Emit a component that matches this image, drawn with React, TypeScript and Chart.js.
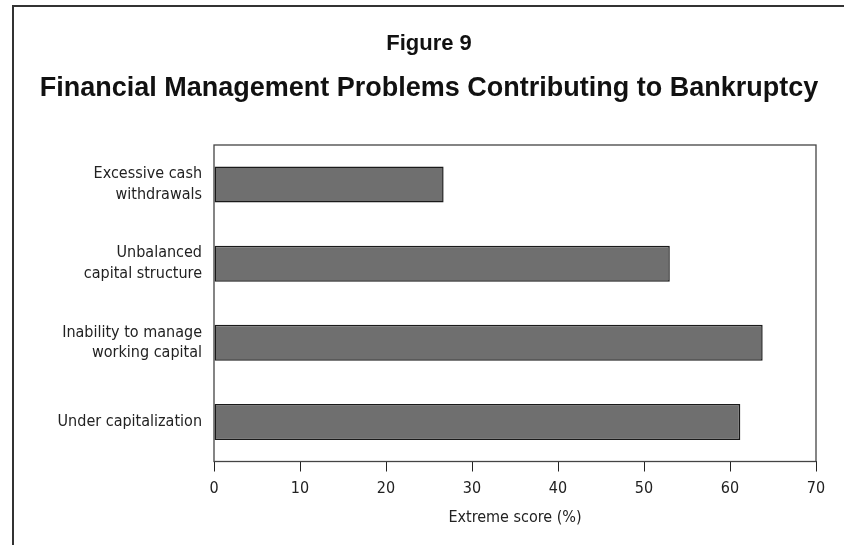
import React, { useEffect, useRef } from "react";
import { Chart, registerables } from "chart.js";

Chart.register(...registerables);

const categories: (string | string[])[] = [
  ["Excessive cash", "withdrawals"],
  ["Unbalanced", "capital structure"],
  ["Inability to manage", "working capital"],
  "Under capitalization",
];
const scores: number[] = [26.7, 53.0, 63.8, 61.2];
const xTicks: number[] = [0, 10, 20, 30, 40, 50, 60, 70];
const figureLabel = "Figure 9";
const chartTitle = "Financial Management Problems Contributing to Bankruptcy";
const xAxisTitle = "Extreme score (%)";

const narrowFont = "'Liberation Sans Narrow', 'DejaVu Sans Condensed', 'Liberation Sans', Arial, sans-serif";

const frameBox = {
  id: "frameBox",
  afterDraw(chart: any) {
    const { ctx, chartArea } = chart;
    ctx.save();
    ctx.strokeStyle = "#444";
    ctx.lineWidth = 1.3;
    ctx.strokeRect(chartArea.left, chartArea.top, chartArea.right - chartArea.left, chartArea.bottom - chartArea.top);
    ctx.restore();
  },
};

export default function App() {
  const ref = useRef<HTMLCanvasElement | null>(null);
  useEffect(() => {
    if (!ref.current) return;
    const chart = new Chart(ref.current, {
      type: "bar",
      data: {
        labels: categories,
        datasets: [
          {
            data: scores,
            backgroundColor: "#6f6f6f",
            borderColor: "#1a1a1a",
            borderWidth: 1.5,
            borderSkipped: false,
            categoryPercentage: 1,
            barPercentage: 0.456,
          },
        ],
      },
      options: {
        indexAxis: "y",
        animation: false,
        responsive: false,
        maintainAspectRatio: false,
        layout: { padding: { top: 145, right: 28, left: 14, bottom: 18 } },
        plugins: { legend: { display: false }, tooltip: { enabled: false }, title: { display: false } },
        scales: {
          x: {
            min: 0,
            max: 70,
            afterBuildTicks: (scale: any) => {
              scale.ticks = xTicks.map((v) => ({ value: v }));
            },
            afterFit: (scale: any) => {
              scale.height = 65.5;
            },
            grid: {
              display: true,
              drawOnChartArea: false,
              drawTicks: true,
              tickLength: 10,
              color: "#222",
              lineWidth: 1,
            },
            border: { display: true, color: "#222", width: 1 },
            ticks: {
              color: "#222",
              padding: 8,
              font: { family: narrowFont, size: 16 },
              maxRotation: 0,
            },
            title: {
              display: true,
              text: xAxisTitle,
              color: "#222",
              font: { family: narrowFont, size: 16 },
              padding: { top: 4, bottom: 0 },
            },
          },
          y: {
            afterFit: (scale: any) => {
              scale.width = 200;
            },
            grid: { display: false },
            border: { display: false },
            ticks: {
              color: "#222",
              padding: 4,
              font: { family: narrowFont, size: 16, lineHeight: 1.3 },
            },
          },
        },
      },
      plugins: [frameBox],
    });
    return () => chart.destroy();
  }, []);

  return (
    <div style={{ position: "fixed", left: 0, top: 0, width: 844, height: 545, background: "#fff", overflow: "hidden" }}>
      <div
        style={{
          position: "absolute",
          left: 12,
          top: 5,
          width: 900,
          height: 600,
          borderLeft: "2px solid #333",
          borderTop: "2px solid #333",
        }}
      />
      <canvas ref={ref} width={844} height={545} style={{ position: "absolute", left: 0, top: 0 }} />
      <div
        style={{
          position: "absolute",
          left: 14,
          width: 830,
          top: 29,
          textAlign: "center",
          fontFamily: "'Liberation Sans', Arial, sans-serif",
          fontWeight: "bold",
          fontSize: 22,
          lineHeight: "28px",
          color: "#111",
        }}
      >
        {figureLabel}
      </div>
      <div
        style={{
          position: "absolute",
          left: 14,
          width: 830,
          top: 71,
          textAlign: "center",
          fontFamily: "'Liberation Sans', Arial, sans-serif",
          fontWeight: "bold",
          fontSize: 27,
          lineHeight: "32px",
          color: "#111",
        }}
      >
        {chartTitle}
      </div>
    </div>
  );
}
